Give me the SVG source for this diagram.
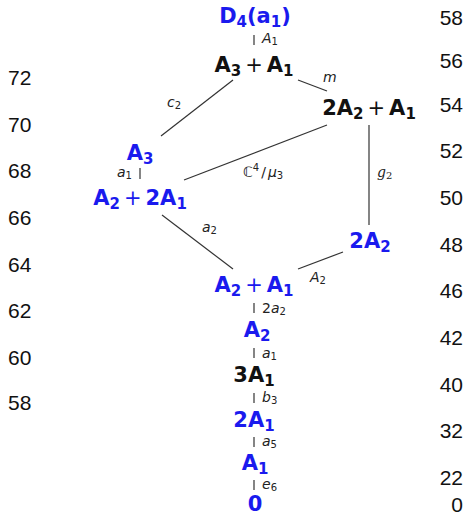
<svg xmlns="http://www.w3.org/2000/svg" width="468" height="515" viewBox="0 0 468 515">
<style>
.n{font-family:"DejaVu Sans",sans-serif;font-weight:bold;font-size:21px;text-anchor:middle}
.b{fill:#1a1aee}
.k{fill:#111}
.s{font-size:15px}
.p{font-weight:normal}
.l{font-family:"DejaVu Sans",sans-serif;font-size:14px;font-style:italic;fill:#222}
.ls{font-size:10px;font-style:normal}
.num{font-family:"Liberation Sans",Arial,sans-serif;font-size:21px;fill:#111}
.e{stroke:#333;stroke-width:1.2;fill:none}
</style>
<g id="axis-left" class="num">
<text x="8" y="85">72</text><text x="8" y="132">70</text><text x="8" y="178">68</text><text x="8" y="225">66</text>
<text x="8" y="272">64</text><text x="8" y="318">62</text><text x="8" y="365">60</text><text x="8" y="410">58</text>
</g>
<g id="axis-right" class="num" text-anchor="end">
<text x="463" y="25">58</text><text x="463" y="68">56</text><text x="463" y="112">54</text><text x="463" y="158">52</text>
<text x="463" y="205">50</text><text x="463" y="252">48</text><text x="463" y="298">46</text><text x="463" y="345">42</text>
<text x="463" y="392">40</text><text x="463" y="438">32</text><text x="463" y="485">22</text><text x="463" y="512">0</text>
</g>
<g id="edges">
<line class="e" x1="233" y1="80" x2="161" y2="136"/>
<line class="e" x1="298" y1="80" x2="327" y2="91"/>
<line class="e" x1="327" y1="125" x2="184" y2="180"/>
<line class="e" x1="369" y1="125" x2="369" y2="225"/>
<line class="e" x1="162" y1="215" x2="233" y2="269"/>
<line class="e" x1="343" y1="252" x2="298" y2="269"/>
<line class="e" x1="254" y1="35" x2="254" y2="45"/>
<line class="e" x1="140" y1="168" x2="140" y2="179"/>
<line class="e" x1="254" y1="303" x2="254" y2="313"/>
<line class="e" x1="254" y1="348" x2="254" y2="358"/>
<line class="e" x1="254" y1="393" x2="254" y2="403"/>
<line class="e" x1="254" y1="437" x2="254" y2="447"/>
<line class="e" x1="254" y1="480" x2="254" y2="490"/>
<text class="l" x="262" y="43">A<tspan class="ls" dy="2">1</tspan></text>
<text class="l" x="323" y="82">m</text>
<text class="l" x="167" y="107">c<tspan class="ls" dy="2">2</tspan></text>
<text class="l" x="243" y="177" style="font-style:normal">ℂ<tspan class="ls" dy="-6">4</tspan><tspan dy="6" dx="2">/</tspan><tspan style="font-style:italic" dx="2">μ</tspan><tspan class="ls" dy="2">3</tspan></text>
<text class="l" x="377" y="177" style="font-family:'DejaVu Serif',serif">g<tspan class="ls" dy="2">2</tspan></text>
<text class="l" x="117" y="177">a<tspan class="ls" dy="2">1</tspan></text>
<text class="l" x="202" y="232">a<tspan class="ls" dy="2">2</tspan></text>
<text class="l" x="310" y="282">A<tspan class="ls" dy="2">2</tspan></text>
<text class="l" x="262" y="313"><tspan style="font-style:normal">2</tspan>a<tspan class="ls" dy="2">2</tspan></text>
<text class="l" x="262" y="358">a<tspan class="ls" dy="2">1</tspan></text>
<text class="l" x="262" y="402">b<tspan class="ls" dy="2">3</tspan></text>
<text class="l" x="262" y="446">a<tspan class="ls" dy="2">5</tspan></text>
<text class="l" x="262" y="489">e<tspan class="ls" dy="2">6</tspan></text>
</g>
<g id="D4a1"><text class="n b" x="255" y="23">D<tspan class="s" dy="4">4</tspan><tspan dy="-4">(a</tspan><tspan class="s" dy="4">1</tspan><tspan dy="-4">)</tspan></text></g>
<g id="A3pA1"><text class="n k" x="254" y="72">A<tspan class="s" dy="4">3</tspan><tspan class="p" dy="-4" dx="4">+</tspan><tspan dx="4">A</tspan><tspan class="s" dy="4">1</tspan></text></g>
<g id="2A2pA1"><text class="n k" x="369" y="115">2A<tspan class="s" dy="4">2</tspan><tspan class="p" dy="-4" dx="4">+</tspan><tspan dx="4">A</tspan><tspan class="s" dy="4">1</tspan></text></g>
<g id="A3"><text class="n b" x="140" y="160">A<tspan class="s" dy="4">3</tspan></text></g>
<g id="A2p2A1"><text class="n b" x="140" y="205">A<tspan class="s" dy="4">2</tspan><tspan class="p" dy="-4" dx="4">+</tspan><tspan dx="4">2A</tspan><tspan class="s" dy="4">1</tspan></text></g>
<g id="2A2"><text class="n b" x="370" y="248">2A<tspan class="s" dy="4">2</tspan></text></g>
<g id="A2pA1"><text class="n b" x="254" y="292">A<tspan class="s" dy="4">2</tspan><tspan class="p" dy="-4" dx="4">+</tspan><tspan dx="4">A</tspan><tspan class="s" dy="4">1</tspan></text></g>
<g id="A2"><text class="n b" x="257" y="337">A<tspan class="s" dy="4">2</tspan></text></g>
<g id="3A1"><text class="n k" x="254" y="382">3A<tspan class="s" dy="4">1</tspan></text></g>
<g id="2A1"><text class="n b" x="254" y="427">2A<tspan class="s" dy="4">1</tspan></text></g>
<g id="A1"><text class="n b" x="255" y="470">A<tspan class="s" dy="4">1</tspan></text></g>
<g id="zero"><text class="n b" x="255" y="511">0</text></g>
</svg>
